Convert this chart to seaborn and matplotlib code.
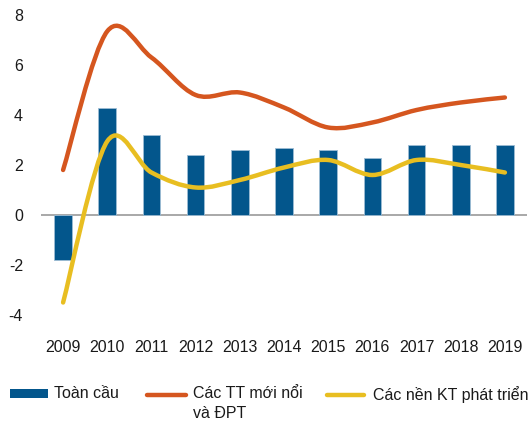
import numpy as np
import pandas as pd
import seaborn as sns
import matplotlib.pyplot as plt
from matplotlib.path import Path
from matplotlib.patches import PathPatch, Rectangle
from matplotlib.lines import Line2D

# values (% growth)
years = ["2009", "2010", "2011", "2012", "2013", "2014", "2015", "2016", "2017", "2018", "2019"]
global_growth = [-1.8, 4.3, 3.2, 2.4, 2.6, 2.7, 2.6, 2.3, 2.8, 2.8, 2.8]
emerging = [1.8, 7.35, 6.3, 4.8, 4.9, 4.3, 3.5, 3.7, 4.2, 4.5, 4.7]
advanced = [-3.5, 2.95, 1.7, 1.1, 1.4, 1.9, 2.2, 1.6, 2.2, 2.0, 1.7]

labels = ["Toàn cầu", "Các TT mới nổi\nvà ĐPT", "Các nền KT phát triển"]
BLUE = "#03568C"
ORANGE = "#D5561F"
YELLOW = "#E8BE21"


def smooth_path(y):
    # Excel-like smoothed line: cubic bezier through each data point
    x = np.arange(len(y), dtype=float)
    pts = np.column_stack([x, np.asarray(y, dtype=float)])
    ext = np.vstack([pts[0], pts, pts[-1]])
    verts = [pts[0]]
    codes = [Path.MOVETO]
    for i in range(len(pts) - 1):
        p0, p1, p2, p3 = ext[i], ext[i + 1], ext[i + 2], ext[i + 3]
        verts += [p1 + (p2 - p0) / 6, p2 - (p3 - p1) / 6, p2]
        codes += [Path.CURVE4] * 3
    return Path(verts, codes)


sns.set_theme(style="white")
plt.rcParams["font.family"] = ["Liberation Sans", "DejaVu Sans"]
plt.rcParams["axes.unicode_minus"] = False

fig = plt.figure(figsize=(5.3, 4.25), dpi=100)
ax = fig.add_axes([41 / 530, 1 - 315 / 425, 486 / 530, 300 / 425])

df = pd.DataFrame({"year": years, "value": global_growth})
sns.barplot(data=df, x="year", y="value", color=BLUE, saturation=1, width=0.4,
            edgecolor="#9dbcd4", linewidth=0.6, ax=ax, zorder=2)

for vals, col in [(emerging, ORANGE), (advanced, YELLOW)]:
    patch = PathPatch(smooth_path(vals), fill=False, edgecolor=col, lw=3.2,
                      capstyle="round", joinstyle="round", zorder=3)
    ax.add_patch(patch)

ax.axhline(0, color="#9a9a9a", lw=1.2, zorder=1)
ax.set_xlim(-0.5, 10.5)
ax.set_ylim(-4, 8)
ax.set_yticks([-4, -2, 0, 2, 4, 6, 8])
ax.set_xlabel("")
ax.set_ylabel("")
ax.tick_params(axis="both", length=0, labelsize=11.5, colors="#1a1a1a")
ax.tick_params(axis="x", pad=18)
ax.tick_params(axis="y", pad=13)
for s in ax.spines.values():
    s.set_visible(False)


# legend drawn in figure pixels
def fx(px):
    return px / 530


def fy(py):
    return 1 - py / 425


fig.patches.append(Rectangle((fx(10), fy(398)), fx(38), 9 / 425, transform=fig.transFigure,
                             facecolor=BLUE, edgecolor="none"))
fig.lines.append(Line2D([fx(147), fx(186)], [fy(394.5)] * 2, transform=fig.transFigure,
                        color=ORANGE, lw=3.2, solid_capstyle="round"))
fig.lines.append(Line2D([fx(327), fx(364)], [fy(394.5)] * 2, transform=fig.transFigure,
                        color=YELLOW, lw=3.2, solid_capstyle="round"))
for px, lab in zip([54, 193, 373], labels):
    fig.text(fx(px), fy(386), lab, fontsize=11.5, color="#1a1a1a", ha="left",
             va="top", linespacing=1.4)

fig.savefig("out.png", dpi=100)
